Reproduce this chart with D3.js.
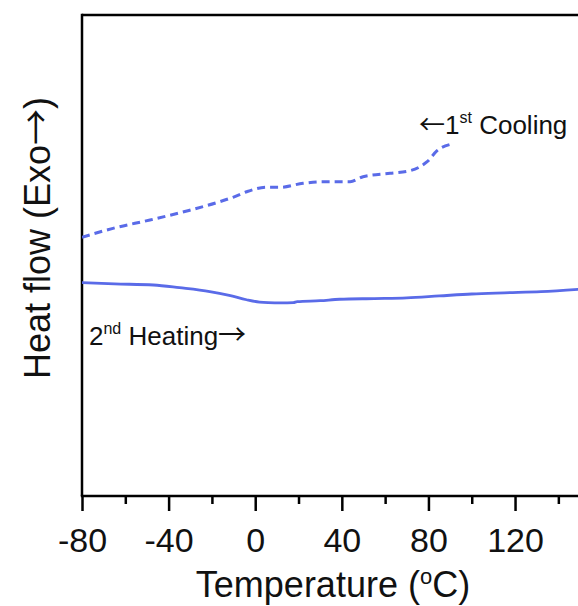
<!DOCTYPE html>
<html>
<head>
<meta charset="utf-8">
<script src="https://cdn.jsdelivr.net/npm/d3@7"></script>
<style>
  html, body { margin: 0; padding: 0; background: #fff; }
  svg { display: block; font-family: Arial, "Liberation Sans", Helvetica, sans-serif; }
  .arr { font-family: "Noto Sans CJK SC", "DejaVu Sans", sans-serif; }
</style>
</head>
<body>
<svg id="chart" width="578" height="606"></svg>
<script>
// ---- Data (heat flow in arbitrary units) ----
const heatingTemp = [-80, -65, -47, -35, -21, -12, -4, 2, 6, 12, 17.6, 19.4, 30, 39, 55, 70, 85, 100, 115, 132, 150];
const heatingFlow = [4.435, 4.41, 4.387, 4.33, 4.25, 4.17, 4.08, 4.03, 4.019, 4.015, 4.019, 4.04, 4.06, 4.09, 4.105, 4.12, 4.16, 4.2, 4.225, 4.25, 4.30];

const coolingTemp = [-80, -65.7, -48.6, -31.6, -16.3, -10.3, -3.9, 5.3, 11.5, 22.1, 31.3, 43.8, 49.8, 62.3, 71.5, 76.1, 79.4, 84, 90.8];
const coolingFlow = [5.378, 5.565, 5.738, 5.925, 6.119, 6.21, 6.326, 6.418, 6.418, 6.501, 6.534, 6.534, 6.638, 6.709, 6.763, 6.846, 6.95, 7.179, 7.318];

const xMajorTicks = [-80, -40, 0, 40, 80, 120];
const xMinorTicks = [-60, -20, 20, 60, 100, 140];
const xDomain = [-80, 150];
const yDomain = [0, 10];

// ---- Layout ----
const svg = d3.select("#chart");
const mLeft = 82, mRight = 580, mTop = 15, mBottom = 496;
const lineColor = "#5a6be8";

const x = d3.scaleLinear().domain(xDomain).range([mLeft, mRight]);
const y = d3.scaleLinear().domain(yDomain).range([mBottom, mTop]);

// frame: top and left
svg.append("line").attr("x1", mLeft).attr("x2", mRight + 5).attr("y1", mTop).attr("y2", mTop)
  .attr("stroke", "#000").attr("stroke-width", 2.5);
svg.append("line").attr("x1", mLeft).attr("x2", mLeft).attr("y1", mTop - 1.2).attr("y2", mBottom)
  .attr("stroke", "#000").attr("stroke-width", 2.5);

// bottom axis
const xAxis = svg.append("g").attr("transform", `translate(0,${mBottom})`)
  .call(d3.axisBottom(x).tickValues(xMajorTicks).tickSize(15).tickPadding(17)
    .tickFormat(d => String(d)));
xAxis.select(".domain").attr("stroke-width", 2.5).attr("d", `M${mLeft - 1.2},0H${mRight + 5}`);
xAxis.selectAll(".tick line").attr("stroke-width", 2.5);
xAxis.selectAll(".tick text").attr("font-size", 34).attr("fill", "#111")
  .attr("font-family", "Arial, 'Liberation Sans', sans-serif");

const xMinor = svg.append("g").attr("transform", `translate(0,${mBottom})`)
  .call(d3.axisBottom(x).tickValues(xMinorTicks).tickSize(8).tickFormat(""));
xMinor.select(".domain").remove();
xMinor.selectAll(".tick line").attr("stroke-width", 2.5);

// curves
const line = d3.line().curve(d3.curveMonotoneX);
const heatingPts = heatingTemp.map((t, i) => [x(t), y(heatingFlow[i])]);
const coolingPts = coolingTemp.map((t, i) => [x(t), y(coolingFlow[i])]);

svg.append("clipPath").attr("id", "plotclip").append("rect")
  .attr("x", mLeft).attr("y", mTop).attr("width", mRight - mLeft + 10).attr("height", mBottom - mTop);

svg.append("path").attr("d", line(heatingPts)).attr("fill", "none")
  .attr("stroke", lineColor).attr("stroke-width", 2.8).attr("clip-path", "url(#plotclip)");
svg.append("path").attr("d", line(coolingPts)).attr("fill", "none")
  .attr("stroke", lineColor).attr("stroke-width", 3).attr("stroke-dasharray", "8,5")
  .attr("clip-path", "url(#plotclip)");

// annotations
const cool = svg.append("text").attr("x", 419).attr("y", 134).attr("font-size", 26).attr("fill", "#111");
cool.append("tspan").attr("class", "arr").text("\u2190");
cool.append("tspan").text("1");
cool.append("tspan").attr("font-size", 16).attr("dy", -11).text("st");
cool.append("tspan").attr("dy", 11).text(" Cooling");

const heat = svg.append("text").attr("x", 89).attr("y", 345).attr("font-size", 26).attr("fill", "#111");
heat.append("tspan").text("2");
heat.append("tspan").attr("font-size", 16).attr("dy", -11).text("nd");
heat.append("tspan").attr("dy", 11).text(" Heating");
heat.append("tspan").attr("class", "arr").attr("font-size", 28).text("\u2192");

// axis titles
const xt = svg.append("text").attr("x", 333).attr("y", 597)
  .attr("text-anchor", "middle").attr("font-size", 36).attr("fill", "#111");
xt.append("tspan").text("Temperature (");
xt.append("tspan").attr("font-size", 22).attr("dy", -13).text("o");
xt.append("tspan").attr("dy", 13).text("C)");

const yt = svg.append("text").attr("transform", "translate(50,238) rotate(-90)")
  .attr("text-anchor", "middle").attr("font-size", 36).attr("fill", "#111");
yt.append("tspan").text("Heat flow (Exo");
yt.append("tspan").attr("class", "arr").text("\u2192");
yt.append("tspan").text(")");
</script>
</body>
</html>
